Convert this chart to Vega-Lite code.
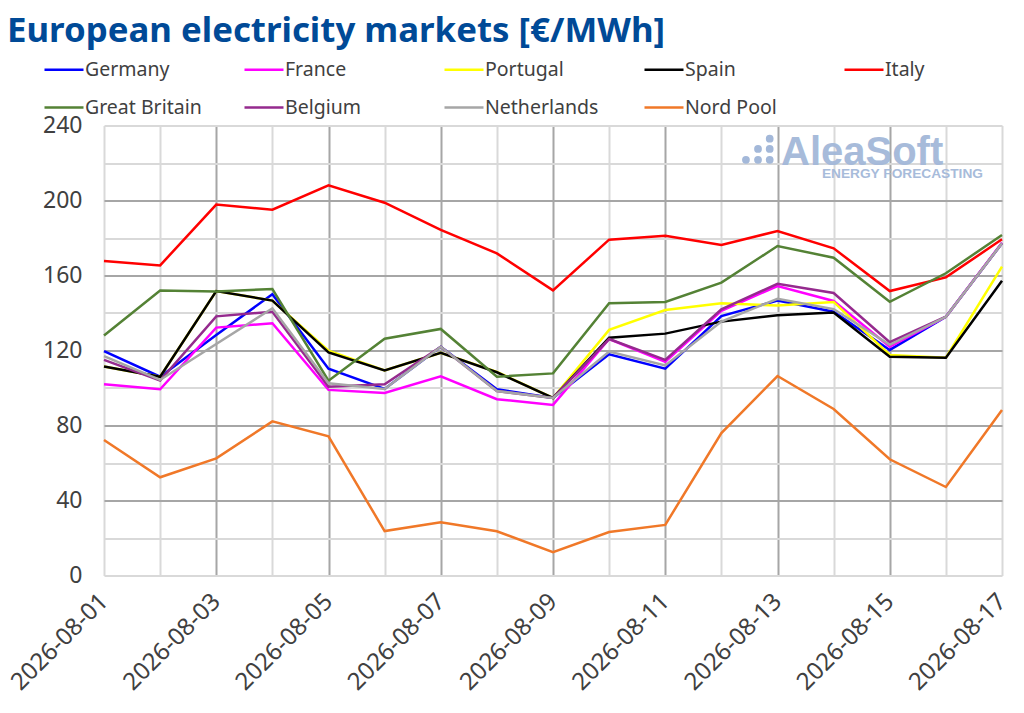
{
  "$schema": "https://vega.github.io/schema/vega-lite/v6.json",
  "width": 898,
  "height": 450,
  "autosize": "none",
  "padding": {"left": 104, "top": 125.5, "right": 22, "bottom": 137.5},
  "background": "white",
  "title": {
    "text": "European electricity markets [€/MWh]",
    "anchor": "start",
    "frame": "group",
    "dx": -97,
    "dy": 36,
    "offset": 8,
    "baseline": "alphabetic",
    "font": "Noto Sans",
    "fontSize": 34.8,
    "fontWeight": "bold",
    "color": "#004a97"
  },
  "config": {
    "view": {"stroke": null},
    "font": "Noto Sans"
  },
  "encoding": {
    "x": {
      "field": "date",
      "type": "temporal",
      "title": null,
      "scale": {"type": "utc", "domain": ["2026-08-01", "2026-08-17"]},
      "axis": {
        "tickCount": {"interval": "day", "step": 1},
        "labelExpr": "utcdate(datum.value) % 2 == 1 ? utcFormat(datum.value, '%Y-%m-%d') : ''",
        "labelAngle": -45,
        "labelBaseline": "middle",
        "labelFontSize": 24,
        "labelColor": "#404040",
        "labelPadding": 22,
        "labelOverlap": false,
        "labelFlush": false,
        "labelBound": false,
        "domain": false,
        "ticks": false,
        "grid": true,
        "gridWidth": 2,
        "gridColor": {
          "condition": {"test": "utcdate(datum.value) % 2 == 1 && utcdate(datum.value) > 1 && utcdate(datum.value) < 17", "value": "#a6a6a6"},
          "value": "#d9d9d9"
        }
      }
    },
    "y": {
      "field": "value",
      "type": "quantitative",
      "title": null,
      "scale": {"domain": [0, 240], "nice": false},
      "axis": {
        "values": [0, 20, 40, 60, 80, 100, 120, 140, 160, 180, 200, 220, 240],
        "labelExpr": "datum.value % 40 == 0 ? datum.label : ''",
        "labelFontSize": 23,
        "labelColor": "#404040",
        "labelPadding": 22,
        "labelOverlap": false,
        "labelBound": false,
        "labelFlush": false,
        "domain": false,
        "ticks": false,
        "grid": true,
        "gridWidth": 2,
        "gridColor": {
          "condition": {"test": "datum.value % 40 == 0 && datum.value > 0 && datum.value < 240", "value": "#a6a6a6"},
          "value": "#d9d9d9"
        }
      }
    }
  },
  "layer": [
    {
      "data": {
        "values": [
          {"date": "2026-08-03"},
          {"date": "2026-08-05"},
          {"date": "2026-08-07"},
          {"date": "2026-08-09"},
          {"date": "2026-08-11"},
          {"date": "2026-08-13"},
          {"date": "2026-08-15"}
        ]
      },
      "mark": {"type": "rule", "color": "#d9d9d9", "strokeWidth": 2},
      "encoding": {
        "y": {"datum": 0},
        "y2": {"datum": 3.7}
      }
    },
    {
      "data": {
        "values": [
          {"date": "2026-08-01", "market": "Germany", "value": 119.7},
          {"date": "2026-08-02", "market": "Germany", "value": 106},
          {"date": "2026-08-03", "market": "Germany", "value": 128.3},
          {"date": "2026-08-04", "market": "Germany", "value": 150},
          {"date": "2026-08-05", "market": "Germany", "value": 110.3},
          {"date": "2026-08-06", "market": "Germany", "value": 99.5},
          {"date": "2026-08-07", "market": "Germany", "value": 122},
          {"date": "2026-08-08", "market": "Germany", "value": 99.3},
          {"date": "2026-08-09", "market": "Germany", "value": 94.7},
          {"date": "2026-08-10", "market": "Germany", "value": 118},
          {"date": "2026-08-11", "market": "Germany", "value": 110.3},
          {"date": "2026-08-12", "market": "Germany", "value": 138.4},
          {"date": "2026-08-13", "market": "Germany", "value": 146.6},
          {"date": "2026-08-14", "market": "Germany", "value": 140.7},
          {"date": "2026-08-15", "market": "Germany", "value": 120.3},
          {"date": "2026-08-16", "market": "Germany", "value": 138},
          {"date": "2026-08-17", "market": "Germany", "value": 177.2},
          {"date": "2026-08-01", "market": "France", "value": 102},
          {"date": "2026-08-02", "market": "France", "value": 99.3},
          {"date": "2026-08-03", "market": "France", "value": 132.2},
          {"date": "2026-08-04", "market": "France", "value": 134.5},
          {"date": "2026-08-05", "market": "France", "value": 99},
          {"date": "2026-08-06", "market": "France", "value": 97.3},
          {"date": "2026-08-07", "market": "France", "value": 106.2},
          {"date": "2026-08-08", "market": "France", "value": 94},
          {"date": "2026-08-09", "market": "France", "value": 91},
          {"date": "2026-08-10", "market": "France", "value": 126.1},
          {"date": "2026-08-11", "market": "France", "value": 114},
          {"date": "2026-08-12", "market": "France", "value": 141.2},
          {"date": "2026-08-13", "market": "France", "value": 154.4},
          {"date": "2026-08-14", "market": "France", "value": 146.4},
          {"date": "2026-08-15", "market": "France", "value": 122},
          {"date": "2026-08-16", "market": "France", "value": 138},
          {"date": "2026-08-17", "market": "France", "value": 177.5},
          {"date": "2026-08-01", "market": "Portugal", "value": 111.5},
          {"date": "2026-08-02", "market": "Portugal", "value": 106},
          {"date": "2026-08-03", "market": "Portugal", "value": 151.7},
          {"date": "2026-08-04", "market": "Portugal", "value": 146.6},
          {"date": "2026-08-05", "market": "Portugal", "value": 119.9},
          {"date": "2026-08-06", "market": "Portugal", "value": 109.4},
          {"date": "2026-08-07", "market": "Portugal", "value": 118.8},
          {"date": "2026-08-08", "market": "Portugal", "value": 108.6},
          {"date": "2026-08-09", "market": "Portugal", "value": 94.7},
          {"date": "2026-08-10", "market": "Portugal", "value": 131},
          {"date": "2026-08-11", "market": "Portugal", "value": 141.6},
          {"date": "2026-08-12", "market": "Portugal", "value": 145.2},
          {"date": "2026-08-13", "market": "Portugal", "value": 144},
          {"date": "2026-08-14", "market": "Portugal", "value": 145.9},
          {"date": "2026-08-15", "market": "Portugal", "value": 117.6},
          {"date": "2026-08-16", "market": "Portugal", "value": 116.2},
          {"date": "2026-08-17", "market": "Portugal", "value": 164.7},
          {"date": "2026-08-01", "market": "Spain", "value": 111.5},
          {"date": "2026-08-02", "market": "Spain", "value": 106},
          {"date": "2026-08-03", "market": "Spain", "value": 151.7},
          {"date": "2026-08-04", "market": "Spain", "value": 146.6},
          {"date": "2026-08-05", "market": "Spain", "value": 119},
          {"date": "2026-08-06", "market": "Spain", "value": 109.4},
          {"date": "2026-08-07", "market": "Spain", "value": 118.8},
          {"date": "2026-08-08", "market": "Spain", "value": 108.4},
          {"date": "2026-08-09", "market": "Spain", "value": 94.7},
          {"date": "2026-08-10", "market": "Spain", "value": 126.8},
          {"date": "2026-08-11", "market": "Spain", "value": 129},
          {"date": "2026-08-12", "market": "Spain", "value": 135.4},
          {"date": "2026-08-13", "market": "Spain", "value": 138.8},
          {"date": "2026-08-14", "market": "Spain", "value": 140.2},
          {"date": "2026-08-15", "market": "Spain", "value": 116.7},
          {"date": "2026-08-16", "market": "Spain", "value": 116.2},
          {"date": "2026-08-17", "market": "Spain", "value": 157.2},
          {"date": "2026-08-01", "market": "Italy", "value": 167.7},
          {"date": "2026-08-02", "market": "Italy", "value": 165.4},
          {"date": "2026-08-03", "market": "Italy", "value": 197.8},
          {"date": "2026-08-04", "market": "Italy", "value": 195.1},
          {"date": "2026-08-05", "market": "Italy", "value": 208.1},
          {"date": "2026-08-06", "market": "Italy", "value": 198.8},
          {"date": "2026-08-07", "market": "Italy", "value": 184.3},
          {"date": "2026-08-08", "market": "Italy", "value": 171.8},
          {"date": "2026-08-09", "market": "Italy", "value": 152.1},
          {"date": "2026-08-10", "market": "Italy", "value": 179.1},
          {"date": "2026-08-11", "market": "Italy", "value": 181.2},
          {"date": "2026-08-12", "market": "Italy", "value": 176.3},
          {"date": "2026-08-13", "market": "Italy", "value": 183.7},
          {"date": "2026-08-14", "market": "Italy", "value": 174.5},
          {"date": "2026-08-15", "market": "Italy", "value": 151.7},
          {"date": "2026-08-16", "market": "Italy", "value": 159},
          {"date": "2026-08-17", "market": "Italy", "value": 179.3},
          {"date": "2026-08-01", "market": "Great Britain", "value": 128},
          {"date": "2026-08-02", "market": "Great Britain", "value": 152},
          {"date": "2026-08-03", "market": "Great Britain", "value": 151.5},
          {"date": "2026-08-04", "market": "Great Britain", "value": 152.8},
          {"date": "2026-08-05", "market": "Great Britain", "value": 103.9},
          {"date": "2026-08-06", "market": "Great Britain", "value": 126.3},
          {"date": "2026-08-07", "market": "Great Britain", "value": 131.5},
          {"date": "2026-08-08", "market": "Great Britain", "value": 106},
          {"date": "2026-08-09", "market": "Great Britain", "value": 107.8},
          {"date": "2026-08-10", "market": "Great Britain", "value": 145.2},
          {"date": "2026-08-11", "market": "Great Britain", "value": 145.9},
          {"date": "2026-08-12", "market": "Great Britain", "value": 156.2},
          {"date": "2026-08-13", "market": "Great Britain", "value": 175.7},
          {"date": "2026-08-14", "market": "Great Britain", "value": 169.5},
          {"date": "2026-08-15", "market": "Great Britain", "value": 146},
          {"date": "2026-08-16", "market": "Great Britain", "value": 161.2},
          {"date": "2026-08-17", "market": "Great Britain", "value": 181.6},
          {"date": "2026-08-01", "market": "Belgium", "value": 115},
          {"date": "2026-08-02", "market": "Belgium", "value": 104},
          {"date": "2026-08-03", "market": "Belgium", "value": 138.2},
          {"date": "2026-08-04", "market": "Belgium", "value": 140.7},
          {"date": "2026-08-05", "market": "Belgium", "value": 100.7},
          {"date": "2026-08-06", "market": "Belgium", "value": 102},
          {"date": "2026-08-07", "market": "Belgium", "value": 122},
          {"date": "2026-08-08", "market": "Belgium", "value": 98.4},
          {"date": "2026-08-09", "market": "Belgium", "value": 94.7},
          {"date": "2026-08-10", "market": "Belgium", "value": 126.1},
          {"date": "2026-08-11", "market": "Belgium", "value": 115},
          {"date": "2026-08-12", "market": "Belgium", "value": 142},
          {"date": "2026-08-13", "market": "Belgium", "value": 155.6},
          {"date": "2026-08-14", "market": "Belgium", "value": 150.7},
          {"date": "2026-08-15", "market": "Belgium", "value": 124.4},
          {"date": "2026-08-16", "market": "Belgium", "value": 138},
          {"date": "2026-08-17", "market": "Belgium", "value": 177.2},
          {"date": "2026-08-01", "market": "Netherlands", "value": 117},
          {"date": "2026-08-02", "market": "Netherlands", "value": 104.3},
          {"date": "2026-08-03", "market": "Netherlands", "value": 123.5},
          {"date": "2026-08-04", "market": "Netherlands", "value": 142.5},
          {"date": "2026-08-05", "market": "Netherlands", "value": 102.5},
          {"date": "2026-08-06", "market": "Netherlands", "value": 99.5},
          {"date": "2026-08-07", "market": "Netherlands", "value": 122},
          {"date": "2026-08-08", "market": "Netherlands", "value": 98.4},
          {"date": "2026-08-09", "market": "Netherlands", "value": 94.7},
          {"date": "2026-08-10", "market": "Netherlands", "value": 119.4},
          {"date": "2026-08-11", "market": "Netherlands", "value": 112},
          {"date": "2026-08-12", "market": "Netherlands", "value": 135.4},
          {"date": "2026-08-13", "market": "Netherlands", "value": 147.6},
          {"date": "2026-08-14", "market": "Netherlands", "value": 142.1},
          {"date": "2026-08-15", "market": "Netherlands", "value": 123},
          {"date": "2026-08-16", "market": "Netherlands", "value": 138},
          {"date": "2026-08-17", "market": "Netherlands", "value": 177.2},
          {"date": "2026-08-01", "market": "Nord Pool", "value": 72.3},
          {"date": "2026-08-02", "market": "Nord Pool", "value": 52.4},
          {"date": "2026-08-03", "market": "Nord Pool", "value": 62.5},
          {"date": "2026-08-04", "market": "Nord Pool", "value": 82.2},
          {"date": "2026-08-05", "market": "Nord Pool", "value": 74.2},
          {"date": "2026-08-06", "market": "Nord Pool", "value": 23.7},
          {"date": "2026-08-07", "market": "Nord Pool", "value": 28.4},
          {"date": "2026-08-08", "market": "Nord Pool", "value": 23.6},
          {"date": "2026-08-09", "market": "Nord Pool", "value": 12.5},
          {"date": "2026-08-10", "market": "Nord Pool", "value": 23.2},
          {"date": "2026-08-11", "market": "Nord Pool", "value": 27},
          {"date": "2026-08-12", "market": "Nord Pool", "value": 76},
          {"date": "2026-08-13", "market": "Nord Pool", "value": 106.4},
          {"date": "2026-08-14", "market": "Nord Pool", "value": 88.8},
          {"date": "2026-08-15", "market": "Nord Pool", "value": 62},
          {"date": "2026-08-16", "market": "Nord Pool", "value": 47.2},
          {"date": "2026-08-17", "market": "Nord Pool", "value": 88.3}
        ]
      },
      "mark": {"type": "line", "strokeWidth": 2.5, "clip": false},
      "encoding": {
        "color": {
          "field": "market",
          "type": "nominal",
          "scale": {
            "domain": ["Germany", "France", "Portugal", "Spain", "Italy", "Great Britain", "Belgium", "Netherlands", "Nord Pool"],
            "range": ["#0000ff", "#ff00ff", "#ffff00", "#000000", "#ff0000", "#548235", "#952a8e", "#a6a6a6", "#f07828"]
          },
          "legend": {
            "title": null,
            "orient": "none",
            "legendX": -61,
            "legendY": -77,
            "columns": 5,
            "gridAlign": "all",
            "direction": "horizontal",
            "symbolType": "stroke",
            "symbolSize": 1521,
            "symbolStrokeWidth": 2.5,
            "labelFontSize": 19.5,
            "labelColor": "#404040",
            "labelOffset": 0,
            "labelLimit": 200,
            "columnPadding": 37,
            "rowPadding": 7
          }
        }
      }
    },
    {
      "data": {
        "values": [
          {"date": "2026-08-12T20:40:00Z", "value": 233},
          {"date": "2026-08-12T15:40:00Z", "value": 227.5},
          {"date": "2026-08-12T20:40:00Z", "value": 227.5},
          {"date": "2026-08-12T10:30:00Z", "value": 221.7},
          {"date": "2026-08-12T15:40:00Z", "value": 221.7},
          {"date": "2026-08-12T20:40:00Z", "value": 221.7}
        ]
      },
      "mark": {"type": "point", "filled": true, "size": 60, "color": "#a3b8d9", "opacity": 1}
    },
    {
      "data": {"values": [{"date": "2026-08-13T01:30:00Z", "value": 219}]},
      "mark": {"type": "text", "text": "AleaSoft", "align": "left", "baseline": "alphabetic", "font": "Liberation Sans", "fontWeight": "bold", "fontSize": 40, "color": "#a3b8d9", "opacity": 0.95}
    },
    {
      "data": {"values": [{"date": "2026-08-13T19:00:00Z", "value": 211.8}]},
      "mark": {"type": "text", "text": "ENERGY FORECASTING", "align": "left", "baseline": "alphabetic", "font": "Liberation Sans", "fontWeight": "bold", "fontSize": 13.7, "color": "#a3b8d9", "opacity": 0.95}
    }
  ]
}
